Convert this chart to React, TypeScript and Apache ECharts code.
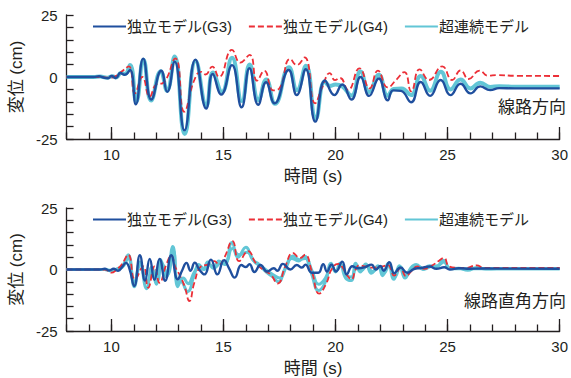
import React, { useEffect, useRef } from 'react';
import * as echarts from 'echarts';

// Axis ticks
const timeMajor = [10, 15, 20, 25, 30];
const dispLabels = [-25, 0, 25];

const legendNames = ['独立モデル(G3)', '独立モデル(G4)', '超連続モデル'];
const panelTitles = ['線路方向', '線路直角方向'];
const timeName = '時間 (s)';
const dispName = '変位 (cm)';

// 線路方向: [time (s), displacement (cm)]
const longG3 = [
  [8, 0], [9.2, 0], [9.45, 0.3], [9.65, -0.2], [9.85, -0.5], [10.0, 0.4], [10.2, -0.4], [10.4, 1.6],
  [10.6, 0.9], [10.83, 2.8], [11.09, -11.0], [11.42, 7.4], [11.78, -9.1], [12.22, 2.5], [12.49, -6.0],
  [12.82, 6.2], [13.26, -21.5], [13.75, 7.0], [14.23, -12.7], [14.52, 1.2], [14.9, -7.1], [15.38, 4.8],
  [15.81, -12.2], [16.16, 3.5], [16.55, -11.2], [16.9, -2.1], [17.28, -10.6], [17.91, 2.8], [18.27, -7.3],
  [18.67, 3.1], [19.1, -18.0], [19.53, -1.4], [19.95, -7.3], [20.3, -3.0], [20.71, -9.1], [21.12, 0.0],
  [21.5, -7.6], [21.93, -0.6], [22.33, -9.4], [22.57, -5.4], [22.92, -5.6], [23.37, -10.2], [23.8, -2.0],
  [24.22, -7.6], [24.69, -1.2], [25.13, -7.3], [25.58, -2.7], [26.02, -6.6], [26.46, -3.8], [26.9, -5.3],
  [27.3, -4.5], [28, -4.6], [30, -4.6],
];
const longG4 = [
  [8, 0], [9.5, 0], [9.9, -0.3], [10.2, 0.4], [10.5, 2.5], [10.78, 4.3], [11.05, -6.6], [11.38, 0.0],
  [11.71, -7.9], [12.0, -3.0], [12.3, -2.4], [12.85, 7.5], [13.25, -14.0], [13.7, -1.2], [14.0, 2.1],
  [14.2, 1.0], [14.5, 4.2], [14.8, 0.0], [15.38, 10.9], [15.75, 5.8], [16.17, 8.9], [16.5, -1.5],
  [16.82, 2.5], [17.22, -5.4], [17.5, -4.5], [17.98, 7.3], [18.27, 4.8], [18.62, 7.9], [19.09, -10.6],
  [19.4, -4.3], [19.75, 1.6], [19.97, -1.3], [20.2, -0.4], [20.56, -5.2], [21.07, 3.5], [21.52, -4.6],
  [21.89, 2.6], [22.33, -4.2], [22.7, -1.2], [23.07, 2.0], [23.38, -5.8], [23.75, 3.1], [24.17, -1.2],
  [24.76, 4.3], [25.2, -1.2], [25.58, 2.7], [25.94, -0.8], [26.43, 2.6], [26.8, 0.5], [27.2, 0.8],
  [28, 0.5], [30, 0.4],
];
const longSuper = [
  [8, 0], [9.2, 0], [9.5, 0.2], [9.8, -0.3], [10.05, 0.3], [10.2, -0.2], [10.45, 1.7], [10.6, 1.2],
  [10.83, 4.8], [11.11, -10.0], [11.43, 7.0], [11.77, -9.5], [12.2, 2.3], [12.48, -5.5], [12.82, 8.3],
  [13.27, -23.0], [13.76, 6.5], [14.24, -11.5], [14.53, 1.8], [14.93, -6.0], [15.38, 7.8], [15.82, -9.7],
  [16.17, 5.0], [16.56, -9.3], [16.91, -1.0], [17.3, -10.8], [17.92, 3.9], [18.28, -5.3], [18.68, 4.5],
  [19.12, -16.8], [19.52, -1.8], [19.75, -3.6], [20.0, -3.0], [20.3, -3.8], [20.71, -7.5], [21.11, 2.2],
  [21.5, -6.0], [21.93, 0.9], [22.33, -7.6], [22.6, -4.8], [22.95, -4.6], [23.37, -7.3], [23.8, 0.4],
  [24.22, -5.5], [24.7, 2.1], [25.13, -5.0], [25.58, -1.0], [26.02, -4.6], [26.46, -2.3], [26.9, -4.0],
  [27.3, -3.7], [28, -3.9], [30, -3.9],
];

// 線路直角方向
const transG3 = [
  [8, 0], [9.5, 0], [9.7, 0.3], [9.9, -0.4], [10.1, 0.3], [10.3, -0.5], [10.5, 1.3], [10.65, 2.7],
  [10.8, 0.5], [11.02, -6.7], [11.27, 5.8], [11.5, -4.5], [11.71, 4.3], [11.92, -4.2], [12.15, 4.3],
  [12.4, -4.6], [12.67, 5.8], [12.96, -4.0], [13.15, -0.5], [13.35, 2.7], [13.53, -0.5], [13.72, 2.8],
  [13.92, 0.0], [14.15, -2.0], [14.44, 4.0], [14.73, -2.0], [15.03, 3.8], [15.25, 0.5], [15.5, -3.3],
  [15.8, 1.8], [16.0, 1.0], [16.16, 2.2], [16.38, -1.0], [16.65, 1.8], [16.95, -0.8], [17.25, 0.5],
  [17.4, -0.5], [17.65, 2.3], [17.98, 0.0], [18.27, 1.8], [18.5, 0.8], [18.66, 2.0], [18.94, -1.3],
  [19.23, -1.3], [19.45, 2.2], [19.62, -0.8], [19.82, 2.0], [20.02, -0.8], [20.3, 3.2], [20.5, -2.0],
  [20.75, 1.3], [21.0, 0.5], [21.3, 0.9], [21.6, 2.0], [21.8, 0.0], [22.0, 1.4], [22.15, -0.5],
  [22.4, 3.0], [22.62, -1.5], [22.9, 0.8], [23.2, -1.3], [23.5, 0.2], [23.8, 0.6], [24.2, 1.2],
  [24.5, 0.3], [24.85, 0.9], [25.1, 0.0], [25.5, 0.5], [26.0, 0.3], [26.5, 0.4], [30, 0.3],
];
const transG4 = [
  [8, 0], [9.7, 0], [10.01, -1.3], [10.2, -0.3], [10.46, 2.0], [10.75, 6.0], [11.05, -4.0], [11.42, 1.3],
  [11.64, -7.4], [11.93, 1.3], [12.15, -5.4], [12.45, 2.0], [12.67, 5.6], [12.85, 1.0], [13.03, -2.0],
  [13.26, -6.7], [13.48, -12.8], [13.7, -5.4], [14.0, 1.3], [14.3, 2.0], [14.59, 3.4], [14.8, 2.0],
  [15.03, 4.7], [15.4, 11.5], [15.7, 3.4], [16.1, 7.5], [16.45, 2.5], [16.87, -0.7], [17.1, -2.0],
  [17.42, -5.7], [17.76, 1.3], [18.1, 6.7], [18.42, 4.7], [18.64, 6.0], [18.94, -0.7], [19.27, -9.8],
  [19.6, -5.4], [19.82, 0.0], [20.12, 2.3], [20.3, 1.0], [20.49, -2.0], [20.71, -4.0], [20.9, 0.0],
  [21.07, 1.7], [21.3, 1.3], [21.6, 0.8], [22.1, 1.3], [22.33, 1.8], [22.62, -2.5], [22.9, 0.7],
  [23.14, -2.7], [23.4, -0.5], [23.66, 1.3], [23.95, 0.3], [24.25, 1.3], [24.62, 3.6], [24.84, 4.7],
  [25.06, 1.3], [25.4, 0.7], [25.8, 0.6], [26.3, 1.7], [26.6, 0.7], [27.0, 0.6], [30, 0.6],
];
// 超連続モデル: two piers of the continuous model
const transSuperA = [
  [8, 0], [9.7, 0], [10.0, -0.6], [10.3, 0.5], [10.5, 1.5], [10.75, 6.0], [11.02, -7.0], [11.27, 3.0],
  [11.57, -7.8], [11.8, 1.0], [12.0, -6.0], [12.2, 4.0], [12.45, -3.0], [12.74, 9.4], [12.96, -7.0],
  [13.1, -5.0], [13.4, -9.0], [13.7, -2.0], [13.9, 2.0], [14.1, 0.0], [14.3, 3.0], [14.55, 0.5],
  [14.8, 3.5], [15.05, 2.0], [15.38, 11.0], [15.65, 5.0], [16.0, 9.0], [16.3, 4.0], [16.6, 2.0],
  [16.9, -1.0], [17.2, -3.0], [17.45, -5.0], [17.75, 0.5], [18.05, 4.5], [18.35, 3.5], [18.6, 5.5],
  [18.9, -1.0], [19.25, -8.5], [19.55, -5.0], [19.8, 2.5], [20.0, -1.0], [20.2, 2.5], [20.45, -3.5],
  [20.7, -4.5], [20.9, 2.5], [21.1, -1.0], [21.35, 2.2], [21.6, -1.5], [21.9, 1.5], [22.1, -2.5],
  [22.35, 2.5], [22.6, -4.0], [22.85, 1.5], [23.1, -3.5], [23.35, 0.5], [23.6, 2.0], [23.9, 0.0],
  [24.2, 1.5], [24.5, 1.0], [24.8, 3.8], [25.1, 0.3], [25.5, 0.5], [25.9, -0.3], [26.3, 0.8],
  [26.7, 0.2], [27.2, 0.3], [30, 0.3],
];
const transSuperB = [
  [8, 0], [9.7, 0], [10.0, -0.4], [10.3, 0.3], [10.5, 1.0], [10.75, 4.5], [11.02, -5.0], [11.3, 2.0],
  [11.57, -5.2], [11.85, -0.5], [12.05, -4.5], [12.25, 2.5], [12.5, -2.0], [12.76, 7.5], [12.98, -5.5],
  [13.2, -3.5], [13.42, -5.8], [13.7, -1.0], [13.95, 1.5], [14.15, 0.0], [14.35, 2.0], [14.6, 0.8],
  [14.85, 2.5], [15.1, 2.8], [15.4, 8.5], [15.7, 6.0], [16.05, 7.0], [16.4, 3.0], [16.65, 1.5],
  [16.95, -0.5], [17.2, -2.0], [17.5, -3.5], [17.8, 1.0], [18.1, 5.5], [18.4, 4.0], [18.65, 4.5],
  [18.95, -0.5], [19.25, -6.0], [19.55, -3.5], [19.8, 1.5], [20.0, -0.5], [20.25, 1.5], [20.5, -2.5],
  [20.7, -3.0], [20.95, 1.5], [21.15, -0.5], [21.4, 1.5], [21.65, -0.8], [21.95, 1.0], [22.15, -1.5],
  [22.4, 1.8], [22.65, -3.0], [22.9, 1.0], [23.15, -2.5], [23.4, 0.5], [23.65, 1.5], [23.95, 0.2],
  [24.25, 1.2], [24.55, 1.5], [24.85, 3.0], [25.1, 0.5], [25.5, 0.3], [30, 0.3],
];

const FONT = '"Liberation Sans", Arial, "Noto Sans CJK JP", sans-serif';
const INK = '#231f20';
const BLUE = '#1f4f9e';
const RED = '#ec2f37';
const CYAN = '#62c6d6';

const GRID_TOPS = [15, 208];

function buildOption() {
  const grid = GRID_TOPS.map((top) => ({ left: 63, top, width: 497, height: 124 }));

  const xAxis: any[] = [];
  const yAxis: any[] = [];
  GRID_TOPS.forEach((_, i) => {
    xAxis.push({
      type: 'value', gridIndex: i, min: 8, max: 30, position: 'bottom',
      axisLine: { show: true, onZero: false, lineStyle: { color: INK, width: 1.3 } },
      axisTick: { show: true, inside: true, length: 12, customValues: timeMajor, lineStyle: { color: INK, width: 1.3 } },
      axisLabel: { customValues: timeMajor, color: INK, fontSize: 15, fontFamily: FONT, margin: 8 },
      splitLine: { show: false },
      name: timeName, nameLocation: 'middle', nameGap: 29,
      nameTextStyle: { color: INK, fontSize: 17, fontFamily: FONT },
    });
    xAxis.push({
      type: 'value', gridIndex: i, min: 8, max: 30, interval: 1, position: 'bottom',
      axisLine: { show: false, onZero: false },
      axisTick: { show: true, inside: true, length: 6.5, lineStyle: { color: INK, width: 1.3 } },
      axisLabel: { show: false },
      splitLine: { show: false },
    });
    yAxis.push({
      type: 'value', gridIndex: i, min: -25, max: 25, interval: 5,
      axisLine: { show: true, onZero: false, lineStyle: { color: INK, width: 1.3 } },
      axisTick: { show: true, inside: true, length: 7, lineStyle: { color: INK, width: 1.3 } },
      axisLabel: {
        color: INK, fontSize: 15, fontFamily: FONT, margin: 9,
        formatter: (v: number) => (dispLabels.includes(v) ? String(v) : ''),
      },
      splitLine: { show: false },
      name: dispName, nameLocation: 'middle', nameGap: 36, nameRotate: 90,
      nameTextStyle: { color: INK, fontSize: 17, fontFamily: FONT },
    });
  });

  const line = (name: string, data: number[][], g: number, color: string, width: number, dashed = false, z = 2) => ({
    type: 'line', name, data, xAxisIndex: g * 2, yAxisIndex: g,
    symbol: 'none', showSymbol: false, smooth: 0.5, z,
    lineStyle: { color, width, type: dashed ? [6, 3] : 'solid' },
    itemStyle: { color },
  });

  const series = [
    line(legendNames[2], longSuper, 0, CYAN, 4, false, 2),
    line(legendNames[1], longG4, 0, RED, 1.8, true, 3),
    line(legendNames[0], longG3, 0, BLUE, 2.4, false, 4),
    line(legendNames[2], transSuperA, 1, CYAN, 3, false, 2),
    line(legendNames[2], transSuperB, 1, CYAN, 3, false, 2),
    line(legendNames[1], transG4, 1, RED, 1.8, true, 3),
    line(legendNames[0], transG3, 1, BLUE, 2.4, false, 4),
  ];

  // Legend keys show the line only, without a marker in the middle
  const hidden = { opacity: 0 };
  const legendData = [
    { name: legendNames[0], itemStyle: hidden, lineStyle: { width: 2 } },
    { name: legendNames[1], itemStyle: hidden, lineStyle: { width: 1.8 } },
    { name: legendNames[2], itemStyle: hidden, lineStyle: { width: 2 } },
  ];
  const legend = [14, 207].map((top) => ({
    top, left: 87, itemWidth: 33, itemHeight: 14, itemGap: 16, selectedMode: false,
    data: legendData,
    itemStyle: hidden,
    textStyle: { color: INK, fontSize: 15, fontFamily: FONT, padding: [0, 0, 0, -4] },
  }));

  const graphic = panelTitles.map((text, i) => ({
    type: 'text', right: 5, top: [99, 293][i],
    style: { text, fill: INK, fontSize: 17, fontFamily: FONT },
  }));

  return { animation: false, grid, xAxis, yAxis, series, legend, graphic };
}

export default function App() {
  const ref = useRef<HTMLDivElement>(null);
  useEffect(() => {
    if (!ref.current) return;
    const chart = echarts.init(ref.current, undefined, { renderer: 'svg' });
    chart.setOption(buildOption() as any);
    return () => chart.dispose();
  }, []);
  return (
    <div
      ref={ref}
      style={{ position: 'fixed', left: 0, top: 0, width: 571, height: 378, background: '#fff' }}
    />
  );
}
